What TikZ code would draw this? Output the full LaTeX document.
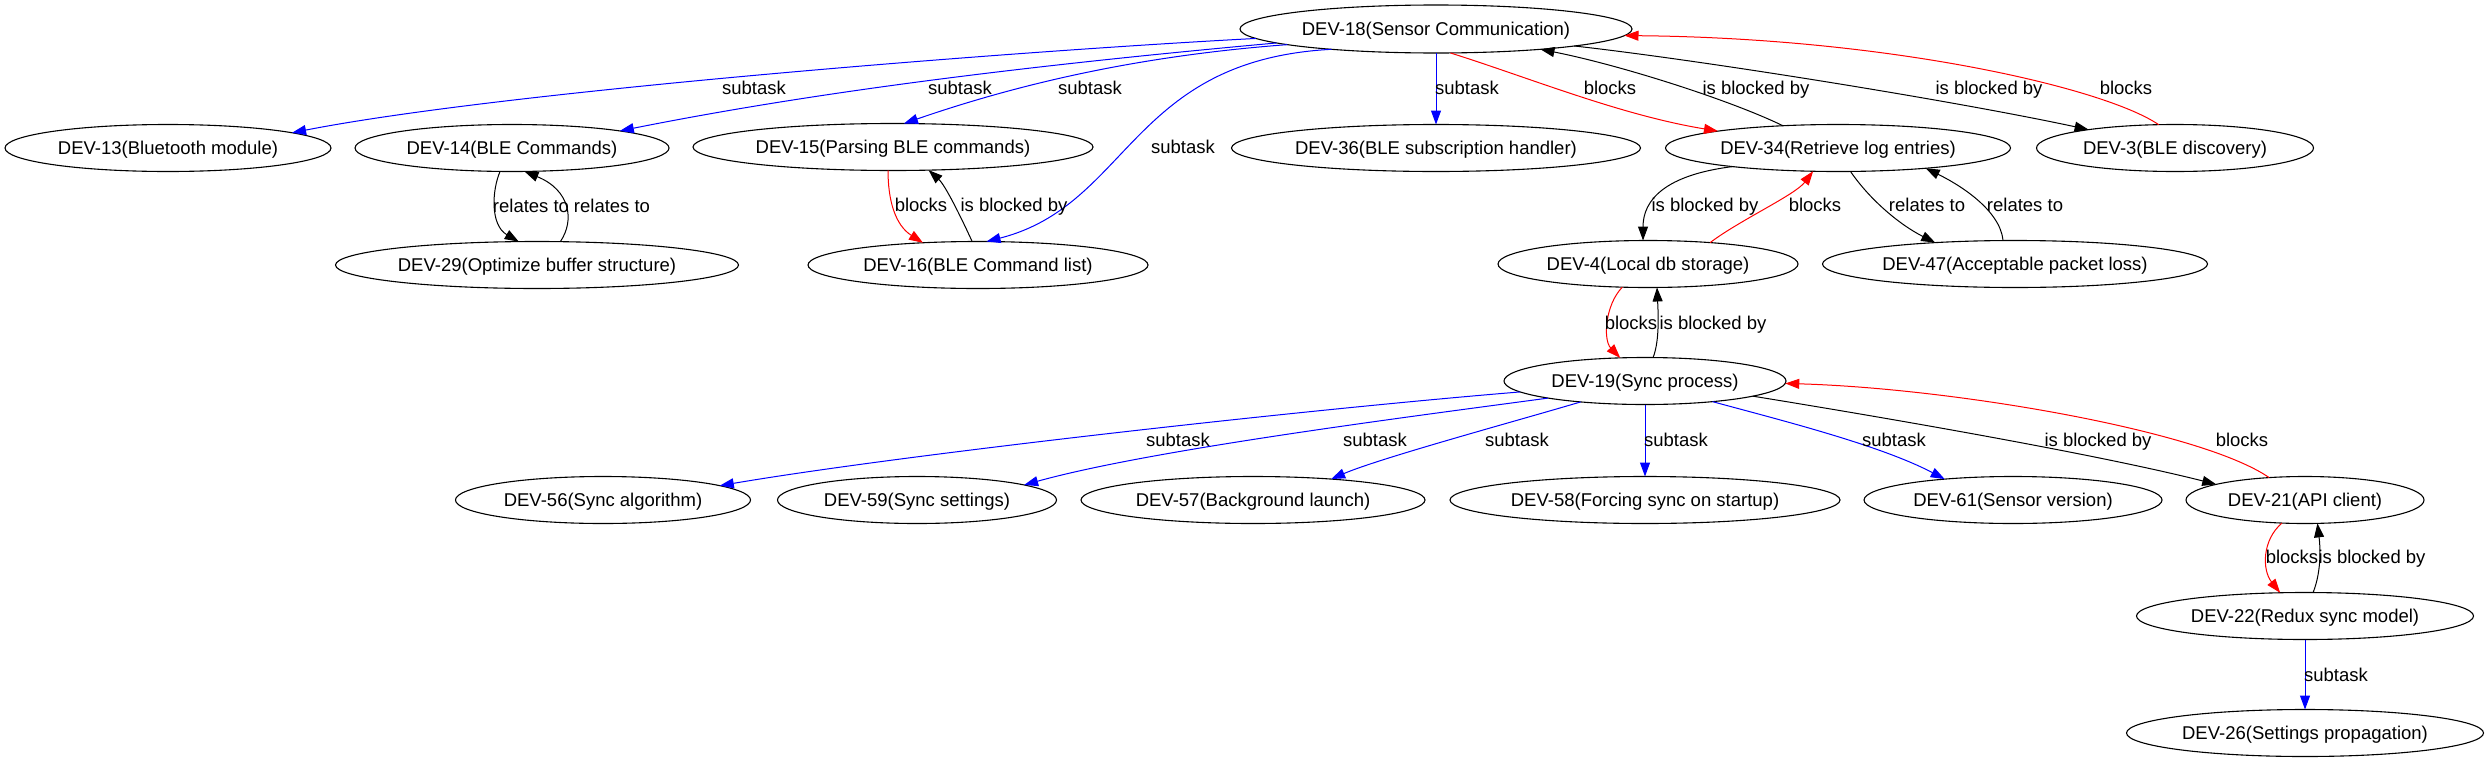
\documentclass[tikz,border=0pt]{standalone}
\usepackage{fontspec}
\setmainfont{Liberation Sans}
\usetikzlibrary{arrows.meta,shapes.geometric}
\tikzset{
  task/.style={ellipse, draw, line width=1.1pt, minimum height=47pt, inner sep=0pt, outer sep=0pt,
    text height=13pt, text depth=0pt, font=\fontsize{18.5pt}{22pt}\selectfont},
  lbl/.style={inner sep=0pt, text height=13pt, text depth=0pt, font=\fontsize{18.5pt}{22pt}\selectfont},
  rel/.style={line width=1pt, -{Triangle[length=14pt,width=10pt]}},
  sub/.style={rel, blue},
  blk/.style={rel, red},
  iby/.style={rel, black},
}
\begin{document}
\begin{tikzpicture}[x=1pt,y=-1pt]
\useasboundingbox (0,0) rectangle (2491,763);
% nodes
\node[task, minimum width=392pt, minimum height=48pt] (n18) at (1436,29) {DEV-18(Sensor Communication)};
\node[task, minimum width=326pt] (n13) at (168,148) {DEV-13(Bluetooth module)};
\node[task, minimum width=314pt] (n14) at (512,148) {DEV-14(BLE Commands)};
\node[task, minimum width=400pt] (n15) at (893,147) {DEV-15(Parsing BLE commands)};
\node[task, minimum width=409pt] (n36) at (1436,148) {DEV-36(BLE subscription handler)};
\node[task, minimum width=345pt] (n34) at (1838,148) {DEV-34(Retrieve log entries)};
\node[task, minimum width=277pt] (n3) at (2175,148) {DEV-3(BLE discovery)};
\node[task, minimum width=403pt] (n29) at (537,265) {DEV-29(Optimize buffer structure)};
\node[task, minimum width=340pt] (n16) at (978,265) {DEV-16(BLE Command list)};
\node[task, minimum width=300pt] (n4) at (1648,264) {DEV-4(Local db storage)};
\node[task, minimum width=385pt] (n47) at (2015,264) {DEV-47(Acceptable packet loss)};
\node[task, minimum width=282pt] (n19) at (1645,381) {DEV-19(Sync process)};
\node[task, minimum width=295pt] (n56) at (603,500) {DEV-56(Sync algorithm)};
\node[task, minimum width=279pt] (n59) at (917,500) {DEV-59(Sync settings)};
\node[task, minimum width=344pt] (n57) at (1253,500) {DEV-57(Background launch)};
\node[task, minimum width=390pt] (n58) at (1645,500) {DEV-58(Forcing sync on startup)};
\node[task, minimum width=298pt] (n61) at (2013,500) {DEV-61(Sensor version)};
\node[task, minimum width=238pt] (n21) at (2305,500) {DEV-21(API client)};
\node[task, minimum width=337pt] (n22) at (2305,616) {DEV-22(Redux sync model)};
\node[task, minimum width=357pt] (n26) at (2305,733) {DEV-26(Settings propagation)};
% edges
\draw[sub] (n18.183.5) .. controls (1000,52) and (500,92) .. (n13.7.5);
\draw[sub] (n18.185) .. controls (1000,68) and (800,95) .. (n14.9.75);
\draw[sub] (n18.186) .. controls (1150,55) and (1030,80) .. (n15.65.5);
\draw[sub] (n18.191) .. controls (1130,60) and (1130,205) .. (n16.70);
\draw[sub] (n18.south) -- (n36.north);
\draw[blk] (n18.-59.8) .. controls (1530,78) and (1620,115) .. (n34.172.9);
\draw[iby] (n34.158.4) .. controls (1730,100) and (1620,65) .. (n18.-11.4);
\draw[iby] (n18.-7.8) .. controls (1700,60) and (1950,100) .. (n3.168.1);
\draw[blk] (n3.125.6) .. controls (2105,88) and (1890,38) .. (n18.-2.5);
\draw[iby] (n14.-117.1) .. controls (492,190) and (490,225) .. (n29.128.7);
\draw[iby] (n29.45.4) .. controls (575,220) and (570,190) .. (n14.-62.9);
\draw[blk] (n15.-102) .. controls (888,200) and (895,225) .. (n16.158.4);
\draw[iby] (n16.104.3) .. controls (960,215) and (945,185) .. (n15.-33.4);
\draw[iby] (n34.-170.7) .. controls (1665,175) and (1643,200) .. (n4.102);
\draw[blk] (n4.19.7) .. controls (1740,220) and (1795,195) .. (n34.-137.1);
\draw[iby] (n34.-62.9) .. controls (1870,200) and (1900,225) .. (n47.165.7);
\draw[iby] (n47.117) .. controls (2000,210) and (1960,185) .. (n34.-13.5);
\draw[blk] (n4.-138.4) .. controls (1605,305) and (1603,340) .. (n19.137.3);
\draw[iby] (n19.71.2) .. controls (1660,340) and (1658,310) .. (n4.-69);
\draw[sub] (n19.-175.2) .. controls (1300,410) and (900,455) .. (n56.7.95);
\draw[sub] (n19.-170.8) .. controls (1400,418) and (1150,450) .. (n59.8);
\draw[sub] (n19.-162.8) .. controls (1520,420) and (1380,458) .. (n57.15.3);
\draw[sub] (n19.south) -- (n58.north);
\draw[sub] (n19.-17.8) .. controls (1780,420) and (1880,445) .. (n61.163.5);
\draw[iby] (n19.-8.86) .. controls (1900,420) and (2100,455) .. (n21.170.6);
\draw[blk] (n21.148.1) .. controls (2200,430) and (1950,388) .. (n19.-1);
\draw[blk] (n21.-135.1) .. controls (2262,540) and (2262,570) .. (n22.137.1);
\draw[iby] (n22.71.2) .. controls (2322,570) and (2320,545) .. (n21.-62.9);
\draw[sub] (n22.south) -- (n26.north);
% labels
\node[lbl] (l1) at (754,88) {subtask};
\node[lbl] (l2) at (960,88) {subtask};
\node[lbl] (l3) at (1090,88) {subtask};
\node[lbl] (l4) at (1183,147) {subtask};
\node[lbl] (l5) at (1467,88) {subtask};
\node[lbl] (l6) at (1610,88) {blocks};
\node[lbl] (l7) at (1756,88) {is blocked by};
\node[lbl] (l8) at (1989,88) {is blocked by};
\node[lbl] (l9) at (2126,88) {blocks};
\node[lbl] (l10) at (531,206) {relates to};
\node[lbl] (l11) at (612,206) {relates to};
\node[lbl] (l12) at (921,205) {blocks};
\node[lbl] (l13) at (1014,205) {is blocked by};
\node[lbl] (l14) at (1705,205) {is blocked by};
\node[lbl] (l15) at (1815,205) {blocks};
\node[lbl] (l16) at (1927,205) {relates to};
\node[lbl] (l17) at (2025,205) {relates to};
\node[lbl] (l18) at (1631,323) {blocks};
\node[lbl] (l19) at (1713,323) {is blocked by};
\node[lbl] (l20) at (1178,440) {subtask};
\node[lbl] (l21) at (1375,440) {subtask};
\node[lbl] (l22) at (1517,440) {subtask};
\node[lbl] (l23) at (1676,440) {subtask};
\node[lbl] (l24) at (1894,440) {subtask};
\node[lbl] (l25) at (2098,440) {is blocked by};
\node[lbl] (l26) at (2242,440) {blocks};
\node[lbl] (l27) at (2292,557) {blocks};
\node[lbl] (l28) at (2372,557) {is blocked by};
\node[lbl] (l29) at (2336,675) {subtask};
\end{tikzpicture}
\end{document}
